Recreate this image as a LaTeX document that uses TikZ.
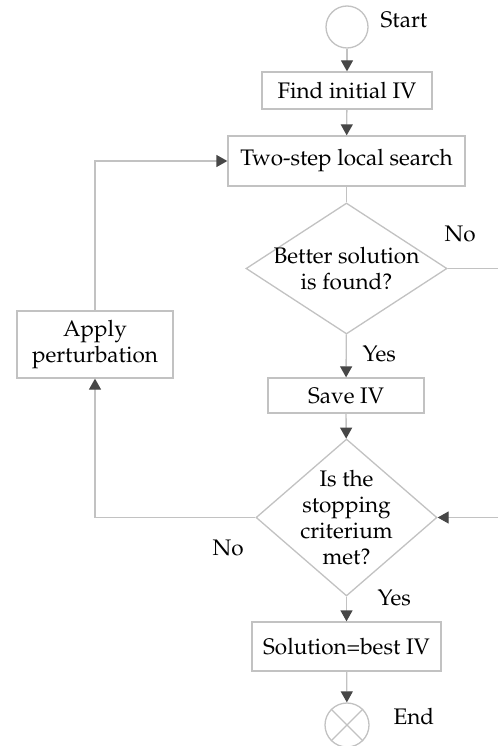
\documentclass[tikz,border=0pt]{standalone}
\usepackage[T1]{fontenc}
\usepackage{mathpazo}
\usepackage{xcolor}
\usepackage{tikz}
\usetikzlibrary{arrows.meta}
\usetikzlibrary{shapes.geometric}

\definecolor{linegray}{gray}{0.76}
\definecolor{tipgray}{gray}{0.28}

\begin{document}
\begin{tikzpicture}[x=1pt, y=-1pt, line width=1.3pt,
    flowtext/.style={inner sep=0pt, align=center, font=\fontsize{22.5}{26}\selectfont},
    flowbox/.style={flowtext, draw=linegray, fill=white},
    flowtest/.style={diamond, draw=linegray, fill=white, inner sep=0pt},
    flowterm/.style={circle, draw=linegray, fill=white, inner sep=0pt},
    flowlabel/.style={flowtext},
    flowline/.style={draw=linegray},
    flowarrow/.style={draw=linegray, -{Triangle[length=11pt, width=12pt, color=tipgray]}}]
    \useasboundingbox (0,0) rectangle (498,746);

    \node[flowterm, minimum size=42pt] (start) at (347,27) {};
    \node[flowbox, minimum width=170pt, minimum height=37pt] (find) at (347,90.5) {Find initial IV};
    \node[flowbox, minimum width=237pt, minimum height=50pt] (search) at (346.5,161) {Two-step local search};
    \node[flowtest, minimum width=201pt, minimum height=131pt,
      label={[flowtext]center:Better solution\\is found?}] (better) at (346.5,268.5) {};
    \node[flowbox, minimum width=156pt, minimum height=35pt] (save) at (346,395.5) {Save IV};
    \node[flowtest, minimum width=181pt, minimum height=157pt,
      label={[flowtext]center:Is the\\stopping\\criterium\\met?}] (stop) at (346.5,517.5) {};
    \node[flowbox, minimum width=156pt, minimum height=67pt] (apply) at (95,344.5) {Apply\\perturbation};
    \node[flowbox, minimum width=189pt, minimum height=49pt] (sol) at (346.5,646.5) {Solution=best IV};
    \node[flowterm, minimum size=44pt] (end) at (347,725) {};
    \draw[flowline] (end.north west) -- (end.south east);
    \draw[flowline] (end.north east) -- (end.south west);

    \coordinate (noout) at (498,268.5);
    \coordinate (loopin) at (498,517.5);

    \draw[flowarrow] (start) -- (find);
    \draw[flowarrow] (find) -- (search);
    \draw[flowline] (search) -- (better);
    \draw[flowarrow] (better) -- (save);
    \draw[flowline] (better.east) -- (noout);
    \draw[flowarrow] (save) -- (stop);
    \draw[flowarrow] (stop.west) -| (apply.south);
    \draw[flowarrow] (apply.north) |- (search.west);
    \draw[flowarrow] (loopin) -- (stop.east);
    \draw[flowarrow] (stop) -- (sol);
    \draw[flowarrow] (sol) -- (end);

    \node[flowlabel, anchor=west] (startlabel) at (380,20) {Start};
    \node[flowlabel, anchor=west] (endlabel) at (393,716) {End};
    \node[flowlabel, anchor=west] (nolabelA) at (444,234) {No};
    \node[flowlabel, anchor=west] (yeslabelA) at (362,354) {Yes};
    \node[flowlabel, anchor=west] (nolabelB) at (212,548) {No};
    \node[flowlabel, anchor=west] (yeslabelB) at (377,598) {Yes};
\end{tikzpicture}
\end{document}
